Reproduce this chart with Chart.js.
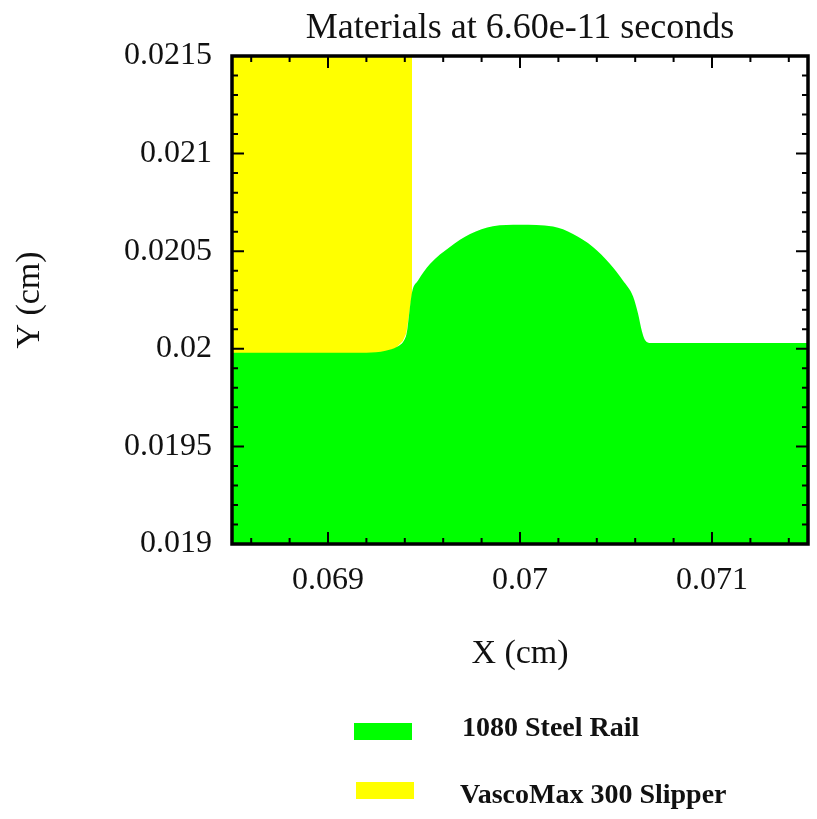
<!DOCTYPE html>
<html>
<head>
<meta charset="utf-8">
<script src="https://cdn.jsdelivr.net/npm/chart.js@4.4.1/dist/chart.umd.min.js"></script>
<style>
  html, body { margin: 0; padding: 0; background: #ffffff; }
  #wrap { position: relative; width: 817px; height: 819px; }
  #c { position: absolute; left: 0; top: 0; }
  .lg-box { position: absolute; width: 58px; height: 17px; }
  .lg-text { position: absolute; font-family: 'Liberation Serif', 'Times New Roman', serif; font-weight: bold; font-size: 28px; line-height: 34px; height: 34px; color: #111; white-space: nowrap; }
</style>
</head>
<body>
<div id="wrap">
  <canvas id="c" width="817" height="819"></canvas>
  <div id="legend"></div>
</div>
<script>
// ---- Data ----
const chartTitle = 'Materials at 6.60e-11 seconds';
const xAxisTitle = 'X (cm)';
const yAxisTitle = 'Y (cm)';
const xRange = [0.0685, 0.0715];
const yRange = [0.019, 0.0215];
const xTickValues = [0.069, 0.07, 0.071];
const xTickLabels = ['0.069', '0.07', '0.071'];
const yTickValues = [0.019, 0.0195, 0.02, 0.0205, 0.021, 0.0215];
const yTickLabels = ['0.019', '0.0195', '0.02', '0.0205', '0.021', '0.0215'];

const seriesNames = ['1080 Steel Rail', 'VascoMax 300 Slipper'];
const seriesColors = ['#00ff00', '#ffff00'];

// Top boundary of the steel rail (filled down to the bottom of the plot)
const railX = [0.0685, 0.06920, 0.06930, 0.06936, 0.06940, 0.069411, 0.069422, 0.069438, 0.069469, 0.069531, 0.069635, 0.069740, 0.069859, 0.070000, 0.070172, 0.070276, 0.070380, 0.070469, 0.070536, 0.070589, 0.070615, 0.070635, 0.070651, 0.070680, 0.0715];
const railY = [0.01998, 0.01998, 0.01999, 0.02001, 0.02005, 0.020086, 0.020173, 0.020291, 0.020350, 0.020435, 0.020522, 0.020588, 0.020628, 0.020635, 0.020626, 0.020588, 0.020522, 0.020435, 0.020350, 0.020268, 0.020180, 0.020090, 0.020045, 0.020030, 0.020030];

// Bottom / right boundary of the slipper (filled up to the top of the plot)
const slipperX = [0.0685, 0.06918, 0.06928, 0.06935, 0.06939, 0.069408, 0.069420, 0.069438, 0.069438];
const slipperY = [0.01996, 0.01996, 0.01998, 0.02000, 0.02004, 0.02008, 0.02016, 0.02028, 0.0215];

// ---- Build ----
const FONT = "'Liberation Serif', 'Times New Roman', serif";
const pts = (xs, ys) => xs.map((x, i) => ({ x: x, y: ys[i] }));

const frameTicks = {
  id: 'frameTicks',
  afterDraw(chart) {
    const { ctx, chartArea: a, scales: { x, y } } = chart;
    ctx.save();
    ctx.strokeStyle = '#000';
    ctx.lineWidth = 2;
    ctx.beginPath();
    for (let k = 343; k <= 357; k++) {
      const px = x.getPixelForValue(k * 0.0002);
      const len = (k % 5 === 0) ? 12 : 6;
      ctx.moveTo(px, a.bottom); ctx.lineTo(px, a.bottom - len);
      ctx.moveTo(px, a.top); ctx.lineTo(px, a.top + len);
    }
    for (let k = 190; k <= 215; k++) {
      const py = y.getPixelForValue(k * 0.0001);
      const len = (k % 5 === 0) ? 12 : 6;
      ctx.moveTo(a.left, py); ctx.lineTo(a.left + len, py);
      ctx.moveTo(a.right, py); ctx.lineTo(a.right - len, py);
    }
    ctx.stroke();
    ctx.lineWidth = 3.5;
    ctx.strokeRect(a.left, a.top, a.right - a.left, a.bottom - a.top);
    ctx.restore();
  }
};

new Chart(document.getElementById('c'), {
  type: 'scatter',
  data: {
    datasets: [
      {
        label: seriesNames[0],
        data: pts(railX, railY),
        showLine: true,
        fill: 'start',
        backgroundColor: seriesColors[0],
        borderColor: seriesColors[0],
        borderWidth: 0,
        pointRadius: 0,
        cubicInterpolationMode: 'monotone'
      },
      {
        label: seriesNames[1],
        data: pts(slipperX, slipperY),
        showLine: true,
        fill: 'end',
        backgroundColor: seriesColors[1],
        borderColor: seriesColors[1],
        borderWidth: 0,
        pointRadius: 0,
        tension: 0
      }
    ]
  },
  options: {
    responsive: false,
    animation: false,
    layout: { padding: { left: 0, right: 9, top: 0, bottom: 0 } },
    plugins: {
      legend: { display: false },
      tooltip: { enabled: false },
      title: {
        display: true,
        fullSize: false,
        align: 'center',
        text: chartTitle,
        color: '#111',
        font: { family: FONT, size: 36, weight: 'normal', lineHeight: 1.2 },
        padding: { top: 7.4, bottom: 5.4 }
      }
    },
    scales: {
      x: {
        type: 'linear',
        min: xRange[0], max: xRange[1],
        afterBuildTicks: (s) => { s.ticks = xTickValues.map(v => ({ value: v })); },
        afterFit: (s) => { s.height = 275; },
        grid: { display: false, drawTicks: false },
        border: { display: false },
        ticks: {
          padding: 17,
          color: '#111',
          font: { family: FONT, size: 32 },
          maxRotation: 0,
          callback: (v, i) => xTickLabels[i]
        },
        title: {
          display: true,
          text: xAxisTitle,
          color: '#111',
          font: { family: FONT, size: 34, lineHeight: 1.2 },
          padding: { top: 0, bottom: 145 }
        }
      },
      y: {
        type: 'linear',
        min: yRange[0], max: yRange[1],
        afterBuildTicks: (s) => { s.ticks = yTickValues.map(v => ({ value: v })); },
        afterFit: (s) => { s.width = 232; },
        grid: { display: false, drawTicks: false },
        border: { display: false },
        ticks: {
          padding: 20,
          color: '#111',
          font: { family: FONT, size: 32 },
          callback: (v, i) => yTickLabels[i]
        },
        title: {
          display: true,
          text: yAxisTitle,
          color: '#111',
          font: { family: FONT, size: 34, lineHeight: 1.2 },
          padding: { top: 9.6, bottom: 0 }
        }
      }
    }
  },
  plugins: [frameTicks]
});

// ---- HTML legend ----
const legendLayout = [
  { box: [354, 723], text: [462, 710] },
  { box: [356, 782], text: [460, 777] }
];
const lg = document.getElementById('legend');
seriesNames.forEach((name, i) => {
  const b = document.createElement('div');
  b.className = 'lg-box';
  b.style.left = legendLayout[i].box[0] + 'px';
  b.style.top = legendLayout[i].box[1] + 'px';
  b.style.background = seriesColors[i];
  lg.appendChild(b);
  const t = document.createElement('div');
  t.className = 'lg-text';
  t.style.left = legendLayout[i].text[0] + 'px';
  t.style.top = legendLayout[i].text[1] + 'px';
  t.textContent = name;
  lg.appendChild(t);
});
</script>
</body>
</html>
